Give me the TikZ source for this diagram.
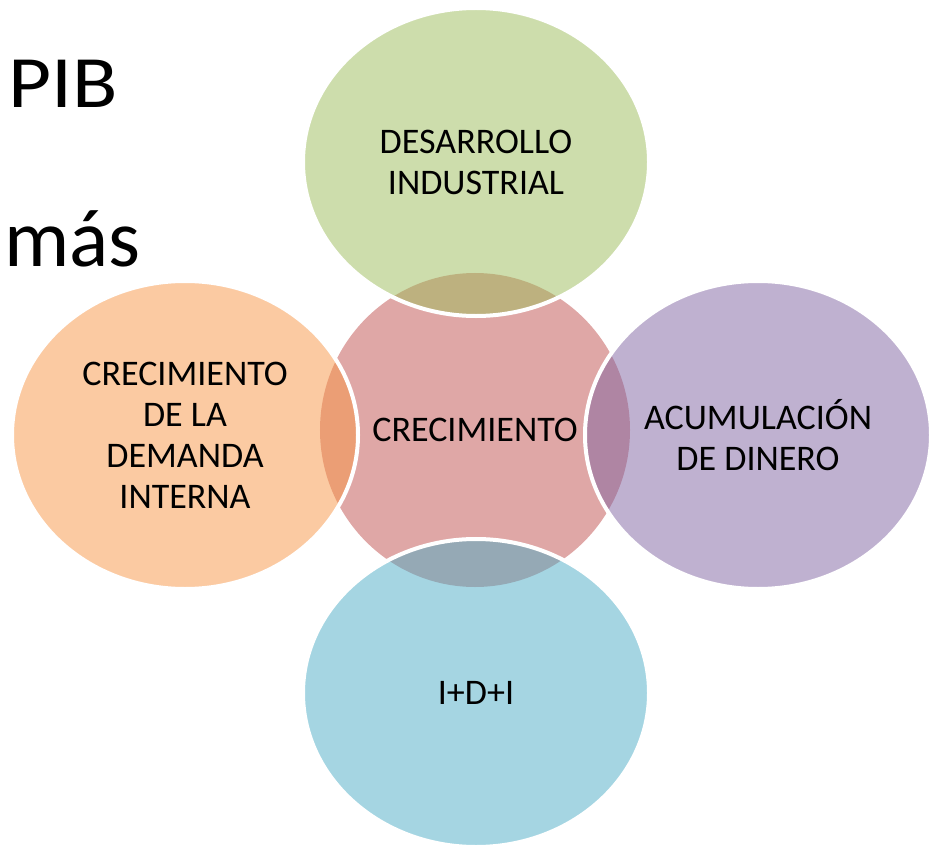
\documentclass[tikz,border=0pt]{standalone}
\usepackage{graphicx}
\usepackage{fontspec}
\setmainfont{Carlito}
\usetikzlibrary{shapes.geometric}

\definecolor{vred}{HTML}{C0504D}
\definecolor{vgreen}{HTML}{9BBB59}
\definecolor{vpurple}{HTML}{8064A2}
\definecolor{vblue}{HTML}{4BACC6}
\definecolor{vorange}{HTML}{F79646}

\begin{document}
\begin{tikzpicture}[x=0.2mm, y=-0.2mm,
        venn/.style={ellipse, fill=#1, fill opacity=0.5, text opacity=1,
            draw=white, line width=0.8mm, minimum width=69.2mm, minimum height=61.6mm,
            inner sep=0pt, align=center, font=\fontsize{20.5}{23.3}\selectfont}]

        \useasboundingbox (0, 0) rectangle (936, 847);

        % centre
        \node[venn=vred, draw=none, minimum width=62mm, minimum height=62.8mm] (crecimiento) at (475, 430) {CRECIMIENTO};

        % around it
        \node[venn=vgreen] (desarrollo) at (476, 162) {DESARROLLO\\INDUSTRIAL};
        \node[venn=vpurple] (dinero) at (758, 435) {ACUMULACIÓN\\DE DINERO};
        \node[venn=vblue] (idi) at (476, 693) {I+D+I};
        \node[venn=vorange] (demanda) at (185, 435) {CRECIMIENTO\\DE LA\\DEMANDA\\INTERNA};

        \node[anchor=base west, inner sep=0pt, font=\fontsize{42}{46}\selectfont] (pib) at (8, 107.5) {\scalebox{1.13}[1]{PIB}};
        \node[anchor=base west, inner sep=0pt, font=\fontsize{46.5}{50}\selectfont] (mas) at (4, 266) {más};
    \end{tikzpicture}
\end{document}
